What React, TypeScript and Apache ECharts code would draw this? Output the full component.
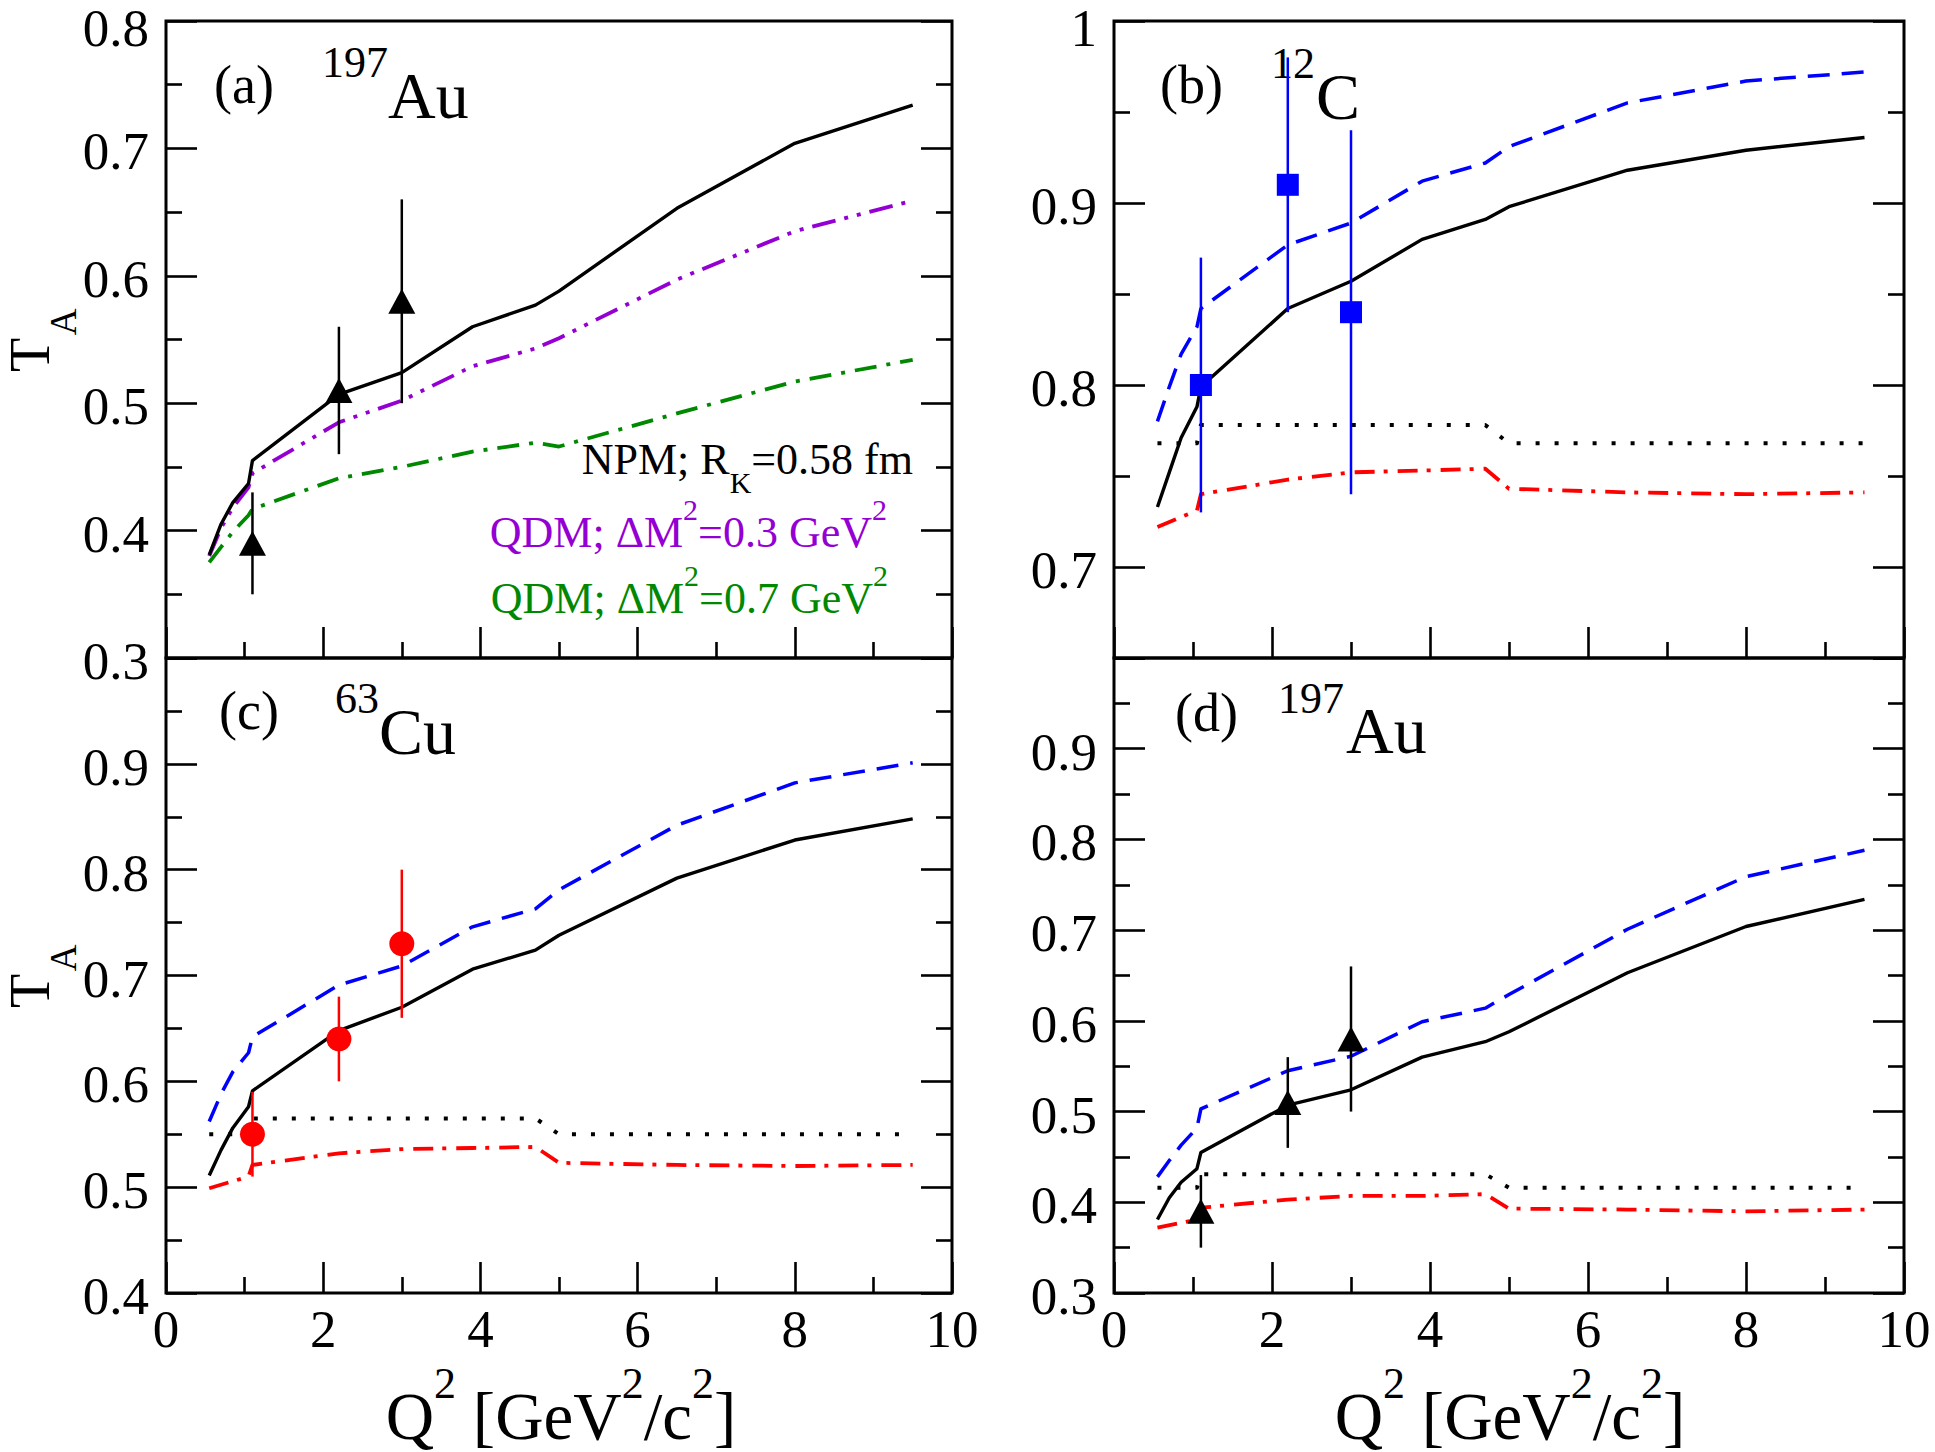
import React, { useEffect, useRef } from 'react';
import * as echarts from 'echarts';

const SERIF = '"Liberation Serif", "DejaVu Serif", serif';

// Q^2 grids (GeV^2/c^2)
const Q2 = [0.55, 0.7, 0.85, 1.05, 1.1, 2.2, 3.0, 3.9, 4.7, 5.0, 6.5, 8.0, 9.5];
const Q2_RED = [0.55, 1.05, 1.1, 2.2, 3.0, 3.9, 4.7, 5.0, 6.5, 8.0, 9.5];
const Q2_DOT = [0.55, 1.05, 1.1, 4.7, 5.0, 9.5];

// 197Au
const AU_NPM = [0.381, 0.405, 0.422, 0.437, 0.455, 0.507, 0.524, 0.560, 0.577, 0.588, 0.653, 0.704, 0.734];
const AU_QDM03 = [0.380, 0.402, 0.418, 0.434, 0.445, 0.485, 0.502, 0.529, 0.543, 0.551, 0.597, 0.635, 0.659];
const AU_QDM07 = [0.375, 0.387, 0.399, 0.412, 0.417, 0.441, 0.450, 0.462, 0.469, 0.466, 0.492, 0.517, 0.534];
const AU_BLUE = [0.428, 0.446, 0.463, 0.482, 0.503, 0.545, 0.561, 0.599, 0.614, 0.629, 0.701, 0.759, 0.788];
const AU_DOT = [0.416, 0.416, 0.431, 0.431, 0.416, 0.416];
const AU_RED = [0.372, 0.381, 0.394, 0.403, 0.407, 0.407, 0.409, 0.393, 0.392, 0.390, 0.392];

// 12C
const C_NPM = [0.733, 0.752, 0.771, 0.788, 0.799, 0.842, 0.857, 0.880, 0.891, 0.898, 0.918, 0.929, 0.936];
const C_BLUE = [0.780, 0.799, 0.817, 0.832, 0.842, 0.877, 0.889, 0.912, 0.922, 0.931, 0.955, 0.967, 0.972];
const C_DOT = [0.768, 0.768, 0.778, 0.778, 0.768, 0.768];
const C_RED = [0.722, 0.731, 0.740, 0.748, 0.752, 0.753, 0.754, 0.743, 0.741, 0.740, 0.741];

// 63Cu
const CU_NPM = [0.511, 0.535, 0.556, 0.576, 0.591, 0.648, 0.670, 0.706, 0.724, 0.738, 0.792, 0.828, 0.848];
const CU_BLUE = [0.562, 0.588, 0.609, 0.627, 0.642, 0.691, 0.709, 0.746, 0.763, 0.781, 0.842, 0.882, 0.901];
const CU_DOT = [0.550, 0.550, 0.565, 0.565, 0.550, 0.550];
const CU_RED = [0.499, 0.510, 0.521, 0.532, 0.536, 0.537, 0.538, 0.523, 0.521, 0.520, 0.521];

// experimental points
const DATA_X = [1.1, 2.2, 3.0];
const AU_DATA = [0.39, 0.51, 0.58];
const AU_ERR = [0.04, 0.05, 0.08];
const C_DATA = [0.80, 0.91, 0.84];
const C_ERR = [0.07, 0.07, 0.10];
const CU_DATA = [0.55, 0.64, 0.73];
const CU_ERR = [0.04, 0.04, 0.07];

const GRIDS = [
  { left: 166, top: 21, width: 786, height: 637 },
  { left: 1114, top: 21, width: 790, height: 637 },
  { left: 166, top: 658, width: 786, height: 635 },
  { left: 1114, top: 658, width: 790, height: 635 },
];

const tickStyle = { color: '#000', width: 2.6 };

function xAx(gi: number, showLabel: boolean) {
  return {
    type: 'value', gridIndex: gi, min: 0, max: 10, interval: 2, position: 'bottom',
    axisLine: { show: false }, splitLine: { show: false },
    axisTick: { show: true, inside: true, length: 31, lineStyle: tickStyle },
    minorTick: { show: true, splitNumber: 2, length: 16, lineStyle: tickStyle },
    axisLabel: { show: showLabel, margin: 9, fontFamily: SERIF, fontSize: 53, color: '#000' },
  };
}

const labelRich = {
  t: { fontFamily: SERIF, fontSize: 53, color: '#000', padding: [8, 0, 0, 0] },
};

function yAx(gi: number, min: number, max: number, interval: number | undefined, pos: string, showLabel: boolean, fmt: (v: number) => string) {
  const o: any = {
    type: 'value', gridIndex: gi, min, max, position: pos,
    axisLine: { show: false }, splitLine: { show: false },
    axisTick: { show: true, inside: true, length: 31, lineStyle: tickStyle },
    minorTick: { show: true, splitNumber: 2, length: 16, lineStyle: tickStyle },
    axisLabel: { show: showLabel, margin: 17, fontFamily: SERIF, fontSize: 53, lineHeight: 40, padding: [6, 0, 0, 0], color: '#000', formatter: fmt, rich: labelRich },
  };
  if (interval !== undefined) o.interval = interval; else o.splitNumber = 4;
  return o;
}

const fmtA = (v: number) => (v > 0.799 ? '{t|' + v.toFixed(1) + '}' : v.toFixed(1));
const fmtTop = (v: number) => (v > 0.999 ? '' : v.toFixed(1));
const fmtB = (v: number) => {
  if (Math.abs(v - 1) < 1e-6) return '{t|1}';
  return Math.abs(v * 10 - Math.round(v * 10)) < 1e-6 ? v.toFixed(1) : '';
};

function lineS(gi: number, xs: number[], ys: number[], color: string, type: any, width: number) {
  return {
    type: 'line', xAxisIndex: gi, yAxisIndex: gi, data: xs.map((x, i) => [x, ys[i]]),
    showSymbol: false, symbol: 'none', silent: true, z: 2,
    lineStyle: { color, width, type, cap: 'butt', join: 'round' },
  };
}

function errS(gi: number, ys: number[], es: number[], color: string) {
  return {
    type: 'custom', xAxisIndex: gi, yAxisIndex: gi, z: 3, silent: true,
    data: DATA_X.map((x, i) => [x, ys[i], es[i]]),
    encode: { x: 0, y: 1 },
    renderItem: (params: any, api: any) => {
      const x = api.value(0), y = api.value(1), e = api.value(2);
      const p1 = api.coord([x, y - e]);
      const p2 = api.coord([x, y + e]);
      return { type: 'line', shape: { x1: p1[0], y1: p1[1], x2: p2[0], y2: p2[1] }, style: { stroke: color, lineWidth: 2.5 } };
    },
  };
}

function ptS(gi: number, ys: number[], color: string, symbol: string, size: any) {
  return {
    type: 'scatter', xAxisIndex: gi, yAxisIndex: gi, z: 4, silent: true,
    data: DATA_X.map((x, i) => [x, ys[i]]), symbol, symbolSize: size,
    itemStyle: { color, opacity: 1 },
  };
}

const DASH = [22, 12];
const DOT = [4, 15];
const DASHDOT = [20, 9, 4, 10];
const DASHDOT2 = [22, 10, 4, 10];
const DASHDOTDOT = [24, 9, 4, 9, 4, 9];

function txt(text: string, x: number, y: number, size: number, color = '#000', align = 'left') {
  return { type: 'text', x, y, silent: true, style: { text, x: 0, y: 0, fontFamily: SERIF, fontSize: size, lineHeight: size * 0.8, fill: color, align, verticalAlign: 'middle' } };
}

function legendLine(rich: string, x: number, y: number, color: string) {
  return {
    type: 'text', x, y, silent: true,
    style: {
      text: rich, align: 'right', verticalAlign: 'top', fill: color,
      rich: {
        m: { fontFamily: SERIF, fontSize: 44, lineHeight: 76, verticalAlign: 'middle', fill: color },
        b: { fontFamily: SERIF, fontSize: 30, verticalAlign: 'bottom', fill: color },
        p: { fontFamily: SERIF, fontSize: 30, verticalAlign: 'top', fill: color },
      },
    },
  };
}

function xTitle(cx: number) {
  return {
    type: 'text', x: cx, y: 1449, silent: true,
    style: {
      text: '{m|Q}{s|2}{m| [GeV}{s|2}{m|/c}{s|2}{m|]}', align: 'center', verticalAlign: 'bottom',
      rich: {
        m: { fontFamily: SERIF, fontSize: 67, padding: [21, 0, 0, 0], verticalAlign: 'bottom', fill: '#000' },
        s: { fontFamily: SERIF, fontSize: 44, verticalAlign: 'top', fill: '#000' },
      },
    },
  };
}

function yTitle(dy: number) {
  return [
    { type: 'text', x: 30, y: 355 + dy, rotation: Math.PI / 2, silent: true, style: { text: 'T', fontFamily: SERIF, fontSize: 56, lineHeight: 36, fill: '#000', align: 'center', verticalAlign: 'middle' } },
    { type: 'text', x: 63, y: 322 + dy, rotation: Math.PI / 2, silent: true, style: { text: 'A', fontFamily: SERIF, fontSize: 37, lineHeight: 26, fill: '#000', align: 'center', verticalAlign: 'middle' } },
  ];
}

export default function App() {
  const ref = useRef<HTMLDivElement>(null);
  useEffect(() => {
    document.body.style.margin = '0';
    const chart = echarts.init(ref.current!, undefined, { renderer: 'svg' });
    const option: any = {
      animation: false,
      backgroundColor: '#fff',
      grid: GRIDS.map((g) => ({
        ...g, show: true, borderColor: '#000', borderWidth: 3, backgroundColor: 'transparent',
        containLabel: false, outerBoundsMode: 'none',
      })),
      xAxis: [xAx(0, false), xAx(1, false), xAx(2, true), xAx(3, true)],
      yAxis: [
        yAx(0, 0.3, 0.8, 0.1, 'left', true, fmtA),
        yAx(1, 0.65, 1.0, undefined, 'left', true, fmtB),
        yAx(2, 0.4, 1.0, 0.1, 'left', true, fmtTop),
        yAx(3, 0.3, 1.0, 0.1, 'left', true, fmtTop),
        yAx(0, 0.3, 0.8, 0.1, 'right', false, fmtA),
        yAx(1, 0.65, 1.0, undefined, 'right', false, fmtB),
        yAx(2, 0.4, 1.0, 0.1, 'right', false, fmtTop),
        yAx(3, 0.3, 1.0, 0.1, 'right', false, fmtTop),
      ],
      series: [
        // (a) 197Au
        lineS(0, Q2, AU_QDM07, '#008800', DASHDOT2, 3.8),
        lineS(0, Q2, AU_QDM03, '#9400d3', DASHDOTDOT, 3.8),
        lineS(0, Q2, AU_NPM, '#000', 'solid', 3.4),
        errS(0, AU_DATA, AU_ERR, '#000'),
        ptS(0, AU_DATA, '#000', 'triangle', [27, 25]),
        // (b) 12C
        lineS(1, Q2_RED, C_RED, '#ff0000', DASHDOT, 3.8),
        lineS(1, Q2_DOT, C_DOT, '#000', DOT, 4),
        lineS(1, Q2, C_BLUE, '#0000ff', DASH, 3.5),
        lineS(1, Q2, C_NPM, '#000', 'solid', 3.4),
        errS(1, C_DATA, C_ERR, '#0000ff'),
        ptS(1, C_DATA, '#0000ff', 'rect', 22),
        // (c) 63Cu
        lineS(2, Q2_RED, CU_RED, '#ff0000', DASHDOT, 3.8),
        lineS(2, Q2_DOT, CU_DOT, '#000', DOT, 4),
        lineS(2, Q2, CU_BLUE, '#0000ff', DASH, 3.5),
        lineS(2, Q2, CU_NPM, '#000', 'solid', 3.4),
        errS(2, CU_DATA, CU_ERR, '#ff0000'),
        ptS(2, CU_DATA, '#ff0000', 'circle', 25),
        // (d) 197Au
        lineS(3, Q2_RED, AU_RED, '#ff0000', DASHDOT, 3.8),
        lineS(3, Q2_DOT, AU_DOT, '#000', DOT, 4),
        lineS(3, Q2, AU_BLUE, '#0000ff', DASH, 3.5),
        lineS(3, Q2, AU_NPM, '#000', 'solid', 3.4),
        errS(3, AU_DATA, AU_ERR, '#000'),
        ptS(3, AU_DATA, '#000', 'triangle', [27, 25]),
      ],
      graphic: [
        txt('(a)', 214, 85, 54), txt('197', 322, 62, 44), txt('Au', 388, 95, 66),
        txt('(b)', 1160, 85, 54), txt('12', 1271, 63, 44), txt('C', 1316, 96, 66),
        txt('(c)', 219, 711, 54), txt('63', 335, 698, 44), txt('Cu', 379, 731, 66),
        txt('(d)', 1175, 713, 54), txt('197', 1278, 698, 44), txt('Au', 1346, 730, 66),
        legendLine('{m|NPM; R}{b|K}{m|=0.58 fm}', 913, 421, '#000'),
        legendLine('{m|QDM; ΔM}{p|2}{m|=0.3 GeV}{p|2}', 887, 494, '#9400d3'),
        legendLine('{m|QDM; ΔM}{p|2}{m|=0.7 GeV}{p|2}', 888, 560, '#008800'),
        xTitle(561),
        xTitle(1510),
        ...yTitle(0),
        ...yTitle(636),
      ],
    };
    chart.setOption(option);
    return () => chart.dispose();
  }, []);
  return <div ref={ref} style={{ width: 1935, height: 1452 }} />;
}
